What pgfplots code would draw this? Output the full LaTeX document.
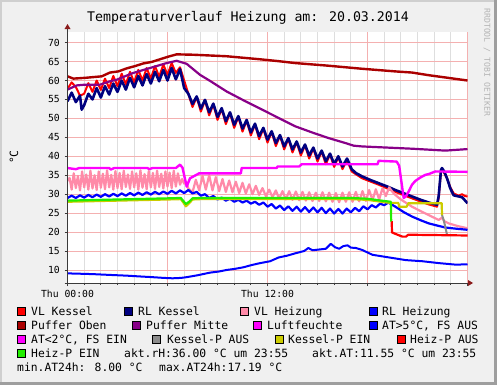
\documentclass[border=0pt]{standalone}
\usepackage{pgfplots}
\pgfplotsset{compat=1.18}
\usepackage{fontspec}
\setmainfont{DejaVu Sans Mono}
\definecolor{bgc}{HTML}{F0F0F0}
\definecolor{shA}{HTML}{CFCFCF}
\definecolor{shB}{HTML}{9E9E9E}
\definecolor{gridmaj}{HTML}{F4B0B0}
\definecolor{gridmin}{HTML}{DEDEDE}
\definecolor{axiscol}{HTML}{3A3A3A}
\definecolor{arrowc}{HTML}{8B1C1C}
\definecolor{vlk}{HTML}{FF0000}
\definecolor{rlk}{HTML}{000080}
\definecolor{vlh}{HTML}{FF8AA8}
\definecolor{rlh}{HTML}{0000FF}
\definecolor{pob}{HTML}{AA0000}
\definecolor{pmi}{HTML}{880088}
\definecolor{luf}{HTML}{FF00FF}
\definecolor{kpa}{HTML}{8C8C8C}
\definecolor{kpe}{HTML}{CCCC00}
\definecolor{hpe}{HTML}{22EE00}
\definecolor{wm}{HTML}{B4B4B4}
\newcommand{\legfont}{\fontsize{11.4}{12}\selectfont}
\newcommand{\legitem}[5]{%
  \fill[#4,draw=black,line width=0.8bp] (#1,#3) rectangle ++(8,8);
  \node[anchor=base west,inner sep=0pt,font=\legfont] at (#2,#3) {#5};}
\begin{document}
\begin{tikzpicture}[x=1bp,y=1bp]
\fill[shB] (0,0) rectangle (497,385);
\fill[shA] (0,3) rectangle (494,385);
\fill[bgc] (2,3) rectangle (494,383);
\node[anchor=base,inner sep=0pt,font=\fontsize{13.3}{14}\selectfont] at (248,363.5) {Temperaturverlauf Heizung am: 20.03.2014};
\node[rotate=90,inner sep=0pt,font=\legfont] at (14,228) {°C};
\node[rotate=-90,inner sep=0pt,text=wm,font=\fontsize{8.2}{9}\selectfont] at (487,322.5) {RRDTOOL / TOBI OETIKER};
\begin{axis}[
  at={(67.5bp,102bp)}, anchor=south west,
  scale only axis, width=400bp, height=251bp,
  xmin=0, xmax=24, ymin=6.56, ymax=72.8,
  axis line style={draw=none},
  axis background/.style={fill=white},
  xtick={0,6,12,18,24}, xticklabels={Thu 00:00,,Thu 12:00,,},
  minor x tick num=5,
  ytick={10,15,...,70},
  grid=both,
  major grid style={draw=gridmaj, line width=0.8bp},
  minor grid style={draw=gridmin, line width=0.8bp},
  tick align=outside, xtick pos=left, ytick pos=left,
  major tick length=3bp, minor tick length=2bp,
  tick style={draw=axiscol, line width=0.8bp},
  tick label style={font=\fontsize{9.8}{10}\selectfont, text=black},
  /pgf/number format/assume math mode=true,
  yticklabel style={inner sep=0pt, xshift=-4.5bp},
  xticklabel style={inner sep=0pt, yshift=-4bp},
  no markers, every axis plot/.append style={line join=round},
]
% VL Kessel
\addplot[vlk, line width=2bp] coordinates {(0,57.8)(0.25,59.5)(0.5,58.3)(0.75,56.0)(1,56.5)(1.25,59.3)(1.5,57.0)(1.75,60.0)(2,57.5)(2.25,60.5)(2.5,58.0)(2.75,61.2)(3,58.5)(3.25,61.8)(3.5,59.0)(3.75,62.3)(4,59.5)(4.25,62.8)(4.5,60.0)(4.75,63.3)(5,60.5)(5.25,63.8)(5.5,61.0)(5.75,64.2)(6,61.5)(6.25,64.6)(6.5,62.0)(6.75,63.5)(7,60.0)(7.25,56.5)(7.5,53.0)(7.75,55.6)(8,51.8)(8.25,54.7)(8.5,50.8)(8.75,53.7)(9,49.6)(9.25,52.5)(9.5,48.5)(9.75,51.4)(10,47.5)(10.25,50.4)(10.5,46.5)(10.75,49.4)(11,45.5)(11.25,48.4)(11.5,44.5)(11.75,47.3)(12,43.6)(12.25,46.4)(12.5,42.7)(12.75,45.4)(13,41.8)(13.25,44.6)(13.5,41.0)(13.75,43.7)(14,40.2)(14.25,42.9)(14.5,39.4)(14.75,42.1)(15,38.6)(15.25,41.3)(15.5,37.9)(15.75,40.5)(16,37.2)(16.25,39.8)(16.5,36.6)(16.77,39.0)(17.05,36.0)(17.67,34.2)(18.67,32.5)(19.67,30.6)(20.67,28.9)(21.67,27.3)(22.17,26.7)(22.27,29.0)(22.41,36.2)(22.47,36.7)(22.77,34.2)(22.97,31.8)(23.17,30.2)(23.47,29.6)(23.67,30.0)(23.85,29.5)(24,29.4)};
% RL Kessel
\addplot[rlk, line width=2.6bp] coordinates {(0,54.5)(0.25,56.8)(0.5,54.3)(0.75,56.0)(0.85,52.3)(1,53.5)(1.25,56.5)(1.5,55.0)(1.75,58.0)(2,55.5)(2.25,58.5)(2.5,56.3)(2.75,59.2)(3,57.0)(3.25,60.0)(3.5,57.6)(3.75,60.7)(4,58.2)(4.25,61.2)(4.5,58.7)(4.75,61.7)(5,59.2)(5.25,62.3)(5.5,59.8)(5.75,62.8)(6,60.0)(6.25,63.3)(6.5,60.3)(6.75,63.0)(7,58.0)(7.25,56.5)(7.5,53.8)(7.75,55.8)(8,52.6)(8.25,54.9)(8.5,51.6)(8.75,53.9)(9,50.4)(9.25,52.7)(9.5,49.3)(9.75,51.6)(10,48.3)(10.25,50.6)(10.5,47.3)(10.75,49.6)(11,46.3)(11.25,48.6)(11.5,45.3)(11.75,47.5)(12,44.4)(12.25,46.6)(12.5,43.5)(12.75,45.6)(13,42.6)(13.25,44.8)(13.5,41.8)(13.75,43.9)(14,41.0)(14.25,43.1)(14.5,40.2)(14.75,42.3)(15,39.4)(15.25,41.5)(15.5,38.7)(15.75,40.7)(16,38.0)(16.25,40.0)(16.5,37.3)(16.77,39.4)(16.9,38.2)(17.05,36.6)(17.3,35.6)(17.67,34.7)(18.2,33.7)(18.67,32.9)(19.2,32.0)(19.67,31.1)(20.2,30.2)(20.67,29.4)(21.2,28.5)(21.67,27.8)(22.17,27.2)(22.27,29.5)(22.41,36.4)(22.47,36.9)(22.6,36.0)(22.77,34.2)(22.97,31.5)(23.17,29.7)(23.47,29.4)(23.67,29.2)(23.8,28.6)(24,27.6)};
% VL Heizung
\addplot[vlh, line width=2.2bp] coordinates {(0,33.5)(0.125,34.3)(0.25,31.2)(0.375,35.5)(0.5,31.6)(0.625,34.8)(0.75,31.0)(0.875,36.0)(1,31.8)(1.125,35.2)(1.25,31.2)(1.375,36.2)(1.5,31.5)(1.625,35.0)(1.75,31.1)(1.875,36.0)(2,31.7)(2.125,35.4)(2.25,31.3)(2.375,36.3)(2.5,31.8)(2.625,35.1)(2.75,31.2)(2.875,36.1)(3,31.6)(3.125,35.6)(3.25,31.3)(3.375,36.2)(3.5,31.9)(3.625,35.2)(3.75,31.4)(3.875,36.0)(4,31.8)(4.125,35.5)(4.25,31.2)(4.375,36.3)(4.5,31.7)(4.625,35.3)(4.75,31.3)(4.875,36.1)(5,31.8)(5.125,35.6)(5.25,31.4)(5.375,36.2)(5.5,31.9)(5.625,35.4)(5.75,31.5)(5.875,36.0)(6,32.0)(6.125,35.7)(6.25,31.6)(6.375,36.2)(6.5,32.0)(6.625,35.5)(6.75,32.5)(6.875,34.0)(7,32.8)(7.125,33.2)(7.25,31.5)(7.5,30.5)(7.7,33.8)(7.9,31.0)(8.1,34.8)(8.3,31.2)(8.5,35.0)(8.7,31.0)(8.9,34.5)(9.1,30.8)(9.3,34.0)(9.5,30.6)(9.7,33.6)(9.9,30.5)(10.1,33.3)(10.3,30.3)(10.5,33.0)(10.7,30.2)(10.9,32.6)(11.1,30.0)(11.3,32.2)(11.5,29.8)(11.7,31.6)(11.9,29.5)(12.1,31.2)(12.3,29.2)(12.5,31.0)(12.7,28.8)(12.9,30.8)(13.1,28.6)(13.3,30.8)(13.5,28.5)(13.7,30.7)(13.9,28.4)(14.1,30.6)(14.3,28.3)(14.5,30.5)(14.7,28.2)(14.9,30.4)(15.1,28.2)(15.3,30.5)(15.5,28.1)(15.7,30.4)(15.9,28.0)(16.1,30.3)(16.3,27.9)(16.5,30.4)(16.7,28.0)(16.9,30.5)(17.1,28.0)(17.3,30.6)(17.5,28.1)(17.7,30.8)(17.9,28.2)(18.1,31.1)(18.3,28.4)(18.5,31.3)(18.7,28.6)(18.9,31.6)(19.1,29.5)(19.3,31.8)(19.5,30.6)(19.67,29.8)(20,28.6)(20.67,26.7)(21.2,25.5)(21.67,24.5)(22.27,23.2)(22.47,23.8)(22.6,22.9)(22.87,22.3)(23.4,21.6)(24,21.0)};
% RL Heizung
\addplot[rlh, line width=2.2bp] coordinates {(0,29.0)(0.25,29.6)(0.5,29.0)(0.75,29.7)(1,29.1)(1.25,29.8)(1.5,29.2)(1.75,29.9)(2,29.3)(2.25,30.0)(2.5,29.4)(2.75,30.1)(3,29.5)(3.25,30.2)(3.5,29.6)(3.75,30.3)(4,29.7)(4.25,30.4)(4.5,29.8)(4.75,30.5)(5,29.9)(5.25,30.6)(5.5,30.0)(5.75,30.7)(6,30.1)(6.25,30.9)(6.5,30.2)(6.75,31.0)(7,30.3)(7.25,31.1)(7.5,30.2)(7.75,30.6)(8,29.6)(8.25,30.0)(8.5,29.0)(8.75,29.5)(9,28.6)(9.25,29.1)(9.5,28.3)(9.75,28.8)(10,28.0)(10.25,28.5)(10.5,27.8)(10.75,28.3)(11,27.5)(11.25,28.0)(11.5,27.2)(11.75,27.8)(12,26.7)(12.25,27.4)(12.5,26.2)(12.75,27.0)(13,25.8)(13.25,26.8)(13.5,25.6)(13.75,26.7)(14,25.4)(14.25,26.6)(14.5,25.3)(14.75,26.5)(15,25.2)(15.25,26.4)(15.5,25.0)(15.75,26.2)(16,24.9)(16.25,26.1)(16.5,24.9)(16.75,26.2)(17,25.2)(17.25,26.4)(17.5,25.5)(17.75,26.8)(18,26.0)(18.25,27.1)(18.5,26.5)(18.75,27.5)(19,27.1)(19.25,27.8)(19.67,26.7)(20.2,25.2)(20.67,24.1)(21.2,23.1)(21.67,22.3)(22.2,21.7)(22.67,21.2)(23.3,20.9)(24,20.6)};
% Puffer Oben
\addplot[pob, line width=2.4bp] coordinates {(0,61.1)(0.35,60.5)(1.05,60.7)(2.05,61.1)(2.55,62.1)(3.05,62.4)(3.55,63.2)(4.05,63.8)(4.55,64.5)(5.05,64.9)(5.55,65.6)(6.05,66.3)(6.55,66.9)(7.55,66.8)(8.55,66.6)(9.55,66.4)(10.55,66.0)(11.55,65.6)(12.67,65.1)(13.67,64.6)(15.67,63.9)(17.67,63.1)(19.67,62.4)(20.67,62.1)(21.67,61.4)(24,60.0)};
% Puffer Mitte
\addplot[pmi, line width=2.2bp] coordinates {(0,57.6)(0.55,58.7)(1.05,58.9)(1.95,58.9)(2.55,59.8)(2.95,60.2)(3.55,61.3)(3.95,62.0)(4.95,63.3)(5.95,64.6)(6.55,65.2)(7.15,64.4)(7.95,61.5)(8.55,59.9)(9.55,57.1)(10.55,54.8)(11.55,52.6)(12.67,50.1)(13.67,47.9)(14.67,46.3)(15.67,44.8)(16.67,43.5)(17.17,42.8)(17.67,42.6)(19.67,42.2)(20.67,42.0)(22.67,41.5)(24,41.9)};
% Luftfeuchte
\addplot[luf, line width=2.4bp] coordinates {(0,36.9)(0.5,36.6)(0.7,36.9)(2.5,36.9)(2.6,36.5)(2.8,36.9)(4.8,36.9)(4.9,36.6)(5.1,36.9)(6.5,36.9)(6.75,37.8)(6.9,37.0)(7.15,32.0)(7.35,34.2)(7.9,35.5)(10.4,35.5)(10.45,36.9)(12.55,36.9)(12.6,37.3)(13.9,37.3)(14.05,37.9)(18.6,37.9)(18.67,38.8)(19.75,38.6)(19.9,37.5)(20.17,29.0)(20.3,29.4)(20.47,30.7)(20.67,32.5)(20.87,33.5)(21.17,34.4)(21.47,35.1)(21.67,35.3)(22.07,36.0)(24,35.9)};
% AT
\addplot[rlh, line width=2bp] coordinates {(0,9.1)(0.8,9.0)(1.55,8.9)(2.5,8.7)(3.55,8.5)(4.3,8.3)(5.1,8.1)(5.8,7.9)(6.3,7.8)(6.8,7.9)(7.15,8.1)(7.8,8.6)(8.55,9.3)(9.1,9.6)(9.55,10.0)(10.05,10.3)(10.55,10.7)(11.05,11.3)(11.55,11.8)(12.15,12.3)(12.67,13.3)(13.2,13.8)(13.67,14.4)(14.2,15.0)(14.45,15.8)(14.7,15.2)(15.1,15.4)(15.5,15.6)(15.8,16.9)(16.05,16.0)(16.3,15.6)(16.55,16.3)(16.8,16.5)(17.0,15.9)(17.3,15.8)(17.67,15.3)(18.3,14.0)(19.3,13.3)(20.3,12.6)(21.3,12.3)(22.3,11.8)(23.3,11.4)(24,11.5)};
% Kessel-P AUS
\addplot[kpa, line width=2bp] coordinates {(22.47,24.5)(22.57,23.2)(22.67,21.3)(22.77,19.3)};
% Kessel-P EIN
\addplot[kpe, line width=2.2bp] coordinates {(0,28.0)(2,28.2)(4,28.4)(6,28.6)(6.8,28.7)(6.95,27.8)(7.1,26.8)(7.3,27.6)(7.5,28.6)(8,28.7)(12,28.7)(17,28.7)(18,28.5)(19,27.9)(19.37,27.7)(19.85,27.7)(19.9,26.7)(20.35,26.7)(20.45,27.6)(22.45,27.6)(22.47,24.5)};
% Heiz-P AUS
\addplot[vlk, line width=2.2bp] coordinates {(19.45,22.9)(19.47,19.9)(19.8,19.3)(20.1,18.8)(20.3,18.8)(20.45,19.3)(24,19.1)};
% Heiz-P EIN
\addplot[hpe, line width=2.2bp] coordinates {(0,28.3)(2,28.5)(4,28.7)(6,28.9)(6.8,29.0)(6.95,28.2)(7.1,27.4)(7.3,28.0)(7.5,28.9)(8,29.0)(12,29.0)(17,29.0)(18,28.8)(19,28.2)(19.4,28.0)(19.42,23.0)(19.45,22.9)};
\end{axis}
% axes with arrows
\draw[axiscol,line width=1bp] (67.5,99) -- (67.5,357);
\fill[arrowc] (64.5,356) -- (70.5,356) -- (67.5,361) -- cycle;
\draw[axiscol,line width=1bp] (64.5,102) -- (469,102);
\fill[arrowc] (468,99) -- (468,105) -- (473,102) -- cycle;
% legend
\legitem{17}{31}{70}{vlk}{VL Kessel}
\legitem{124}{138}{70}{rlk}{RL Kessel}
\legitem{240}{254}{70}{vlh}{VL Heizung}
\legitem{369}{382}{70}{rlh}{RL Heizung}
\legitem{17}{31}{55.9}{pob}{Puffer Oben}
\legitem{132}{146}{55.9}{pmi}{Puffer Mitte}
\legitem{253}{267}{55.9}{luf}{Luftfeuchte}
\legitem{369}{382}{55.9}{rlh}{AT>5°C, FS AUS}
\legitem{17}{31}{41.8}{luf}{AT<2°C, FS EIN}
\legitem{152}{167}{41.8}{kpa}{Kessel-P AUS}
\legitem{275}{288}{41.8}{kpe}{Kessel-P EIN}
\legitem{397}{410}{41.8}{vlk}{Heiz-P AUS}
\legitem{17}{31}{27.7}{hpe}{Heiz-P EIN}
\node[anchor=base west,inner sep=0pt,font=\legfont] at (124,27.7) {akt.rH:36.00 °C um 23:55};
\node[anchor=base west,inner sep=0pt,font=\legfont] at (312,27.7) {akt.AT:11.55 °C um 23:55};
\node[anchor=base west,inner sep=0pt,font=\legfont] at (17,13.6) {min.AT24h: 8.00 °C};
\node[anchor=base west,inner sep=0pt,font=\legfont] at (159,13.6) {max.AT24h:17.19 °C};
\end{tikzpicture}
\end{document}
